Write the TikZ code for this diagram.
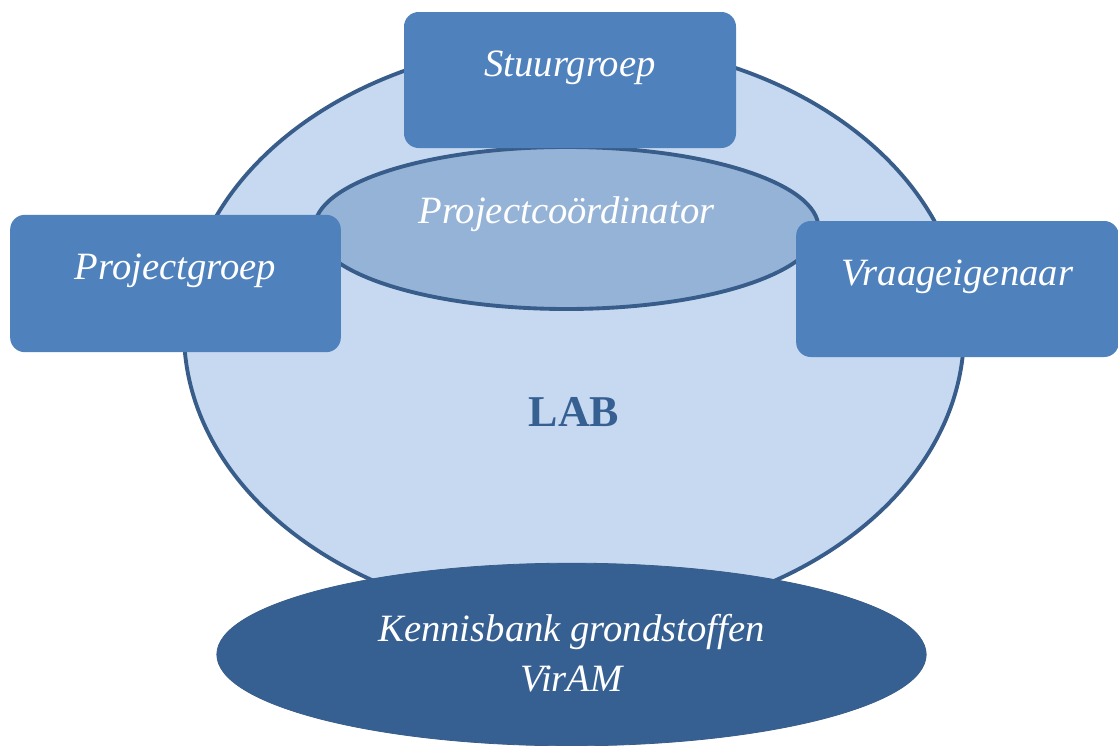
\documentclass[tikz,border=0pt]{standalone}
\usepackage{fontspec}
\usepackage{tikz}
\usetikzlibrary{shapes.geometric}
\setmainfont{Liberation Serif}
\definecolor{boxblue}{HTML}{4F81BD}
\definecolor{labfill}{HTML}{C6D9F1}
\definecolor{coordfill}{HTML}{95B3D7}
\definecolor{edgeblue}{HTML}{385D8A}
\definecolor{bankblue}{HTML}{376092}
\newcommand{\lblfont}{\fontsize{29pt}{38pt}\selectfont\itshape}
\begin{document}
\begin{tikzpicture}[x=0.75pt,y=-0.75pt,
	orgbox/.style={rectangle,rounded corners=11pt,fill=boxblue,text=white,font=\lblfont,
	minimum width=249pt,minimum height=102pt,text height=18pt,text depth=24pt},
	ring/.style={ellipse,draw=edgeblue,line width=2.9pt,inner sep=0pt}]
\useasboundingbox (0,0) rectangle (1118,746);
\node[ring,fill=labfill,minimum width=585pt,minimum height=435pt] (lab) at (574,332) {};
\node[ring,fill=coordfill,text=white,font=\lblfont,minimum width=378pt,minimum height=121.5pt,
	text height=18pt,text depth=25.5pt] (coord) at (566.5,228) {Projectcoördinator};
\node[orgbox] (stuur) at (570,80) {Stuurgroep};
\node[orgbox,minimum width=248pt,minimum height=103pt] (projgr) at (175.5,283.5) {Projectgroep};
\node[orgbox,minimum width=242pt] (vraag) at (957.5,289) {Vraageigenaar};
\node[anchor=base,text=bankblue,font=\fontsize{33pt}{40pt}\selectfont\bfseries] (labtxt) at (574,426) {LAB};
\node[ellipse,fill=bankblue,draw=edgeblue,line width=0.6pt,text=white,font=\lblfont,align=center,
	minimum width=532pt,minimum height=137pt,text height=58pt,text depth=2pt] (bank) at (571.5,654.5)
	{Kennisbank grondstoffen\\VirAM};
\end{tikzpicture}
\end{document}
